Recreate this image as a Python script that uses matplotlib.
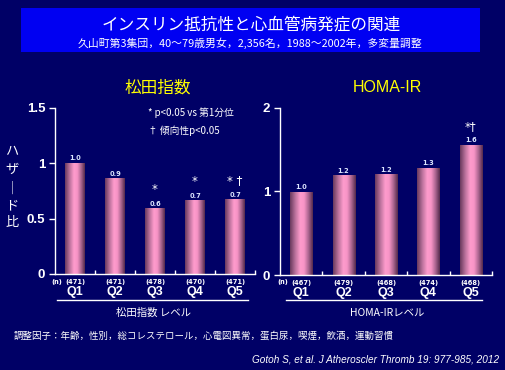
import numpy as np
import matplotlib
matplotlib.use("Agg")
import matplotlib.pyplot as plt
from matplotlib.colors import LinearSegmentedColormap
from matplotlib.patches import Rectangle
from matplotlib.lines import Line2D

plt.rcParams['font.family'] = ['Noto Sans CJK JP', 'DejaVu Sans']

# ---------------- data ----------------
categories = ["Q1", "Q2", "Q3", "Q4", "Q5"]
matsuda_hr = [1.0, 0.86, 0.59, 0.66, 0.67]
matsuda_lbl = ["1.0", "0.9", "0.6", "0.7", "0.7"]
matsuda_n = ["(471)", "(471)", "(478)", "(470)", "(471)"]
matsuda_sig = ["", "", "*", "*", "* †"]

homa_hr = [0.99, 1.19, 1.20, 1.28, 1.55]
homa_lbl = ["1.0", "1.2", "1.2", "1.3", "1.6"]
homa_n = ["(467)", "(479)", "(468)", "(474)", "(468)"]
homa_sig = ["", "", "", "", "*†"]

matsuda_yticks = [0, 0.5, 1, 1.5]
matsuda_yticklabels = ["0", "0.5", "1", "1.5"]
homa_yticks = [0, 1, 2]
homa_yticklabels = ["0", "1", "2"]

title = "インスリン抵抗性と心血管病発症の関連"
subtitle = "久山町第3集団，40～79歳男女，2,356名，1988～2002年，多変量調整"
left_title = "松田指数"
right_title = "HOMA-IR"
left_xlabel = "松田指数 レベル"
right_xlabel = "HOMA-IRレベル"
note1 = "* p<0.05 vs 第1分位"
note2 = "† 傾向性p<0.05"
adjust_text = "調整因子：年齢，性別，総コレステロール，心電図異常，蛋白尿，喫煙，飲酒，運動習慣"
citation = "Gotoh S, et al. J Atheroscler Thromb 19: 977-985, 2012"
ylabel_chars = ["ハ", "ザ", "｜", "ド", "比"]

# ---------------- style ----------------
W, H = 506, 370
BG = "#000066"
fig = plt.figure(figsize=(W / 100, H / 100), dpi=100, facecolor=BG)

def fx(px):
    return px / W

def fy(py):
    return 1 - py / H

cmap = LinearSegmentedColormap.from_list(
    "cyl", [(0, "#6a3a5e"), (0.22, "#b8709a"), (0.45, "#ff9ccd"),
            (0.62, "#f794c6"), (0.82, "#a8648e"), (1, "#552a4c")])
grad = np.linspace(0, 1, 64).reshape(1, -1)

# title box
fig.patches.append(Rectangle((fx(21), fy(52)), fx(459), 44 / H,
                             transform=fig.transFigure, facecolor="#0000f2",
                             edgecolor="none", zorder=0))
fig.text(fx(251), fy(25), title, color="white", fontsize=12,
         ha="center", va="center")
fig.text(fx(250), fy(43), subtitle, color="white", fontsize=7.8,
         ha="center", va="center")


def make_panel(rect, vals, lbls, ns, sigs, ymax, yticks, yticklabels, width):
    ax = fig.add_axes(rect)
    ax.set_facecolor("none")
    x = np.arange(len(categories))
    bars = ax.bar(x, vals, width=width, color="none", edgecolor="none")
    for b in bars:
        x0, w, h = b.get_x(), b.get_width(), b.get_height()
        ax.imshow(grad, extent=[x0, x0 + w, 0, h], aspect="auto",
                  cmap=cmap, zorder=2, interpolation="bilinear")
    for xi, v, l, s in zip(x, vals, lbls, sigs):
        ax.annotate(l, (xi, v), xytext=(0, 1.5), textcoords="offset points",
                    ha="center", va="bottom", fontsize=4.8, color="#dde6ff",
                    family="DejaVu Sans", fontweight="bold")
        if s:
            ax.annotate(s, (xi, v), xytext=(0, 9), textcoords="offset points",
                        ha="center", va="bottom", fontsize=8.5, color="white",
                        family="DejaVu Sans")
    ax.set_xlim(-0.5, len(categories) - 0.5)
    ax.set_ylim(0, ymax)
    for sp in ["top", "right"]:
        ax.spines[sp].set_visible(False)
    for sp in ["left", "bottom"]:
        ax.spines[sp].set_color("white")
        ax.spines[sp].set_linewidth(1.0)
    ax.set_yticks(yticks)
    ax.set_yticklabels(yticklabels, family="Liberation Sans",
                       fontweight="bold", fontsize=9.5, color="white")
    ax.tick_params(axis="y", colors="white", length=4, width=1, pad=3)
    ax.set_xticks(np.arange(len(categories)) + 0.5)
    ax.set_xticklabels([])
    ax.tick_params(axis="x", direction="in", colors="white", length=3, width=1)
    # n labels and Q labels
    for xi, n, c in zip(x, ns, categories):
        ax.annotate(n, (xi, 0), xytext=(0, -6), textcoords="offset points",
                    ha="center", va="center", fontsize=4.8, color="white",
                    family="DejaVu Sans", fontweight="bold")
        ax.annotate(c, (xi, 0), xytext=(0, -13.3), textcoords="offset points",
                    ha="center", va="center", fontsize=9, color="white",
                    family="Liberation Sans", fontweight="bold")
    return ax


axL = make_panel([fx(55), fy(274), fx(200), 166 / H], matsuda_hr, matsuda_lbl,
                 matsuda_n, matsuda_sig, 1.5, matsuda_yticks,
                 matsuda_yticklabels, 0.5)
axR = make_panel([fx(280), fy(275), fx(212), 167 / H], homa_hr, homa_lbl,
                 homa_n, homa_sig, 2.0, homa_yticks, homa_yticklabels, 0.52)

# (n) markers
fig.text(fx(57), fy(282), "(n)", color="white", fontsize=4.8, ha="center",
         va="center", family="DejaVu Sans", fontweight="bold")
fig.text(fx(283), fy(282), "(n)", color="white", fontsize=4.8, ha="center",
         va="center", family="DejaVu Sans", fontweight="bold")

# panel titles
fig.text(fx(158), fy(88), left_title, color="#ffff00", fontsize=12,
         ha="center", va="center")
fig.text(fx(387), fy(88), right_title, color="#ffff00", fontsize=11.5,
         ha="center", va="center", family="Liberation Sans")

# notes
fig.text(fx(148), fy(113), note1, color="white", fontsize=7, ha="left",
         va="center")
fig.text(fx(148), fy(131), note2, color="white", fontsize=7, ha="left",
         va="center")

# y label (vertical)
ys = [152, 169, 189, 206, 223]
for ch, yy in zip(ylabel_chars, ys):
    fig.text(fx(12), fy(yy), ch, color="white", fontsize=9.5, ha="center",
             va="center")

# underline and level labels
fig.add_artist(Line2D([fx(57), fx(248)], [fy(300), fy(300)],
                      color="white", lw=1.0, transform=fig.transFigure))
fig.add_artist(Line2D([fx(286), fx(482)], [fy(300), fy(300)],
                      color="white", lw=1.0, transform=fig.transFigure))
fig.text(fx(154), fy(313), left_xlabel, color="white", fontsize=7.5,
         ha="center", va="center")
fig.text(fx(387), fy(313), right_xlabel, color="white", fontsize=7.5,
         ha="center", va="center")

fig.text(fx(14), fy(336), adjust_text, color="white", fontsize=6.8,
         ha="left", va="center")
fig.text(fx(499), fy(360), citation, color="white", fontsize=7.2,
         ha="right", va="center", style="italic", family="Liberation Sans")

fig.savefig("out.png", dpi=100, facecolor=BG)
